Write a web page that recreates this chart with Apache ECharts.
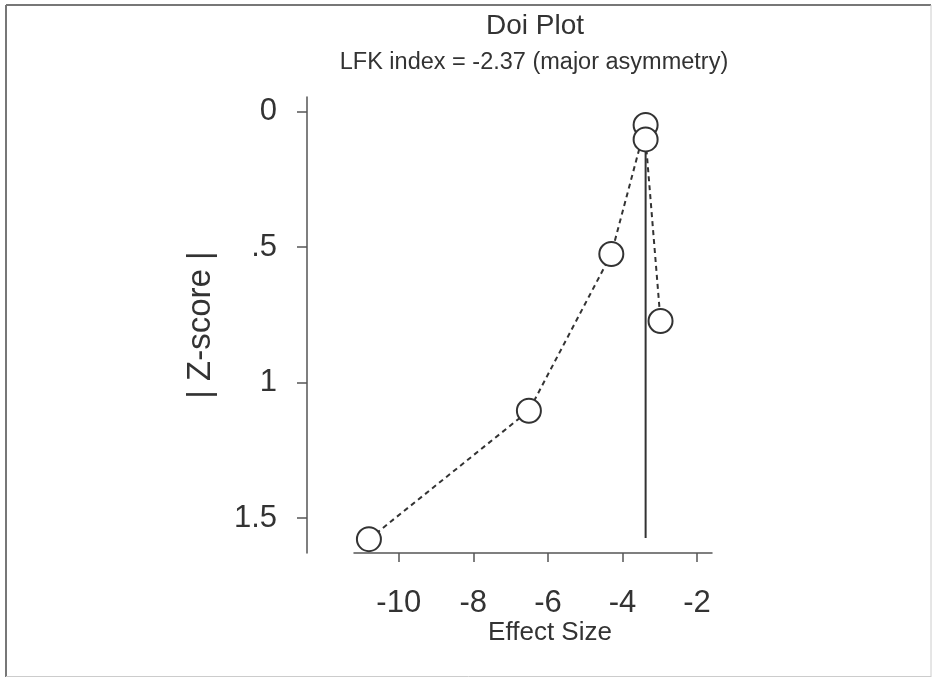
<!DOCTYPE html>
<html><head><meta charset="utf-8">
<script src="https://cdn.jsdelivr.net/npm/echarts@6/dist/echarts.min.js"></script>
<style>html,body{margin:0;padding:0;background:#fff}#c{width:933px;height:678px}</style>
</head><body><div id="c"></div>
<script>
// Data
const effectSize = [-10.8, -6.51, -4.30, -3.38, -3.38, -2.98];
const zScore     = [1.578, 1.104, 0.526, 0.050, 0.103, 0.773];
const xTicks = [-10, -8, -6, -4, -2];
const yTicks = [0, 0.5, 1, 1.5];
const yTickLabels = ['0', '.5', '1', '1.5'];
const refLineX = [-3.38, -3.38];
const refLineY = [0.103, 1.574];
const titleText = 'Doi Plot';
const subtitleText = 'LFK index = -2.37 (major asymmetry)';
const xName = 'Effect Size';
const yName = '| Z-score |';

const FONT = "'Liberation Sans', Arial, Helvetica, sans-serif";
const TXT = '#333';
const AX = '#555';

const pts = effectSize.map((x, i) => [x, zScore[i]]);
const refPts = refLineX.map((x, i) => [x, refLineY[i]]);

const chart = echarts.init(document.getElementById('c'), null, {renderer: 'canvas'});
chart.setOption({
  animation: false,
  backgroundColor: '#fff',
  grid: {left: 354, right: 221, top: 97, bottom: 125, containLabel: false},
  xAxis: {
    type: 'value', min: -11.2, max: -1.6, position: 'bottom',
    axisLine: {show: true, onZero: false, lineStyle: {color: AX, width: 1.5}},
    axisTick: {show: true, inside: false, length: 9, customValues: xTicks, lineStyle: {color: AX, width: 1.5}},
    axisLabel: {customValues: xTicks, fontSize: 31, color: TXT, fontFamily: FONT, margin: 35},
    splitLine: {show: false}
  },
  yAxis: {
    type: 'value', inverse: true, min: -0.0535, max: 1.629, offset: 47,
    axisLine: {show: true, onZero: false, lineStyle: {color: AX, width: 1.5}},
    axisTick: {show: true, length: 10, customValues: yTicks, lineStyle: {color: AX, width: 1.5}},
    axisLabel: {
      customValues: yTicks, fontSize: 31, color: TXT, fontFamily: FONT, margin: 30,
      formatter: v => { const i = yTicks.indexOf(v); return i >= 0 ? yTickLabels[i] : ''; }
    },
    splitLine: {show: false}
  },
  graphic: [
    {type: 'line', shape: {x1: 6, y1: 5, x2: 6, y2: 677}, style: {stroke: '#777', lineWidth: 2}},
    {type: 'line', shape: {x1: 6, y1: 5, x2: 931, y2: 5}, style: {stroke: '#777', lineWidth: 2}},
    {type: 'line', shape: {x1: 931, y1: 5, x2: 931, y2: 677}, style: {stroke: '#ccc', lineWidth: 1}},
    {type: 'line', shape: {x1: 6, y1: 676.5, x2: 931, y2: 676.5}, style: {stroke: '#ccc', lineWidth: 1}},
    {type: 'text', x: 535, y: 26, style: {text: titleText, font: '28px ' + FONT, fill: TXT, textAlign: 'center', textVerticalAlign: 'middle'}},
    {type: 'text', x: 534, y: 63, style: {text: subtitleText, font: '23.5px ' + FONT, fill: TXT, textAlign: 'center', textVerticalAlign: 'middle'}},
    {type: 'text', x: 550, y: 633, style: {text: xName, font: '26px ' + FONT, fill: TXT, textAlign: 'center', textVerticalAlign: 'middle'}},
    {type: 'text', x: 201, y: 325, rotation: Math.PI / 2, style: {text: yName, font: '33px ' + FONT, fill: TXT, textAlign: 'center', textVerticalAlign: 'middle'}}
  ],
  series: [
    {type: 'line', data: pts, showSymbol: false, symbol: 'none', z: 2,
     lineStyle: {color: '#333', width: 2, type: [5, 4]}},
    {type: 'line', data: refPts, showSymbol: false, symbol: 'none', z: 2,
     lineStyle: {color: '#333', width: 2}},
    {type: 'scatter', data: pts, symbol: 'circle', symbolSize: 24, z: 5,
     itemStyle: {color: '#fff', borderColor: '#333', borderWidth: 2, opacity: 1}}
  ]
});
</script></body></html>
